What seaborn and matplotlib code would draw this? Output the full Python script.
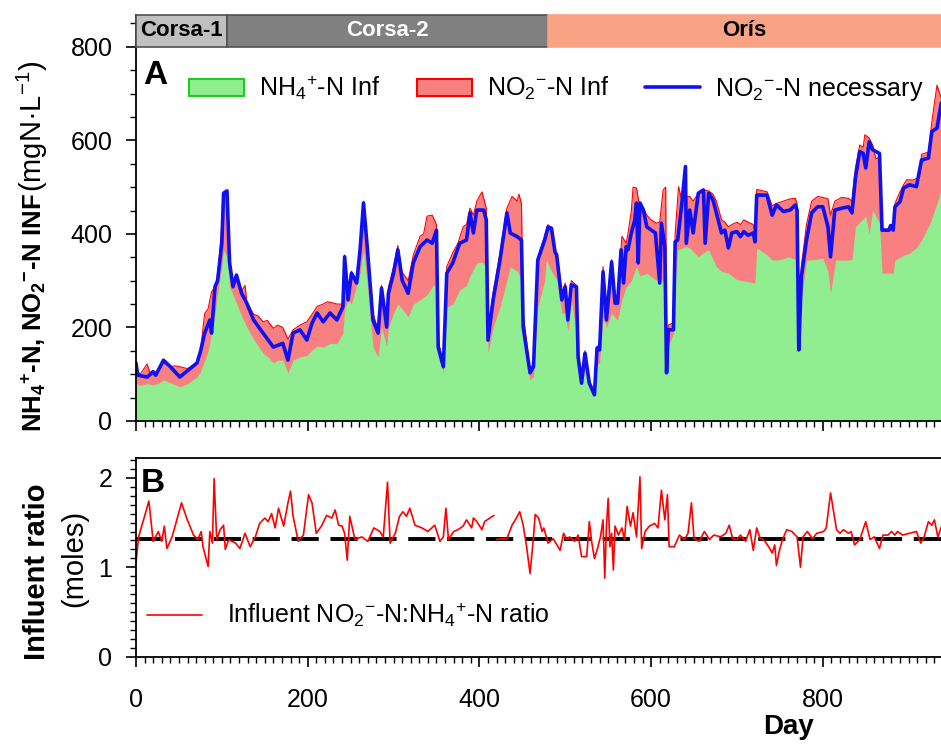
import pandas as pd
import seaborn as sns
import matplotlib.pyplot as plt
from matplotlib.patches import Patch, Rectangle
from matplotlib.lines import Line2D
from matplotlib.ticker import MultipleLocator

###############################################################################
# Data
###############################################################################

# NO2--N necessary (blue line)
need_day = [0, 2, 13, 20, 23, 32, 40, 51, 71, 75, 80, 86, 88, 92, 95, 100, 102, 106, 109, 113,
            117, 123, 129, 137, 148, 160, 171, 177, 183, 191, 199, 205, 211, 218, 226, 234, 241, 243, 247, 251,
            257, 261, 265, 269, 276, 282, 286, 292, 294, 300, 305, 310, 317, 323, 331, 339, 345, 350, 352, 358,
            362, 369, 377, 385, 389, 393, 397, 405, 408, 410, 416, 424, 432, 436, 444, 449, 451, 459, 463, 468,
            476, 480, 484, 488, 490, 496, 500, 503, 507, 513, 515, 519, 523, 528, 534, 537, 540, 544, 548, 554,
            558, 561, 565, 568, 571, 573, 577, 581, 583, 585, 587, 591, 595, 605, 610, 612, 616, 618, 620, 626,
            628, 631, 636, 640, 641, 645, 649, 655, 661, 663, 667, 672, 676, 682, 686, 690, 694, 700, 704, 708,
            713, 719, 721, 723, 735, 741, 746, 754, 762, 768, 770, 772, 775, 781, 787, 794, 800, 806, 809, 814,
            822, 830, 834, 838, 843, 847, 850, 854, 858, 866, 869, 877, 879, 882, 884, 890, 894, 901, 909, 915,
            923, 927, 933, 938]
need_val = [124, 98, 94, 105, 98, 130, 116, 94, 124, 148, 188, 216, 188, 287, 300, 380, 487, 492, 338, 287,
            312, 273, 252, 216, 188, 158, 166, 130, 188, 195, 173, 209, 231, 212, 231, 216, 244, 351, 259, 316,
            295, 366, 466, 380, 216, 188, 284, 201, 273, 316, 366, 301, 273, 338, 373, 387, 380, 408, 158, 116,
            316, 338, 380, 387, 445, 402, 451, 451, 430, 173, 259, 344, 445, 402, 394, 387, 201, 103, 116, 344,
            387, 415, 412, 362, 355, 259, 287, 216, 291, 287, 137, 81, 145, 81, 56, 156, 152, 319, 216, 340,
            252, 252, 366, 295, 373, 366, 402, 430, 466, 338, 466, 451, 415, 402, 295, 423, 373, 103, 195, 195,
            383, 387, 469, 544, 380, 451, 402, 487, 494, 380, 487, 473, 445, 402, 408, 370, 402, 405, 394, 405,
            397, 402, 383, 483, 483, 440, 462, 448, 451, 462, 451, 152, 308, 387, 445, 458, 458, 415, 351, 451,
            455, 458, 445, 520, 576, 572, 541, 597, 580, 572, 408, 408, 418, 408, 458, 469, 498, 505, 501, 558,
            562, 619, 626, 680]

# NO2--N Inf (red area)
no2_day = [0, 5, 13, 16, 20, 25, 32, 40, 45, 51, 60, 71, 75, 80, 84, 88, 92, 95, 100, 102,
           106, 109, 113, 117, 123, 127, 129, 137, 142, 148, 153, 160, 165, 171, 177, 183, 191, 199, 205, 211,
           218, 223, 230, 234, 241, 243, 247, 251, 257, 261, 265, 269, 276, 282, 286, 292, 294, 300, 305, 310,
           317, 323, 331, 335, 339, 345, 350, 352, 358, 362, 369, 375, 381, 385, 389, 393, 397, 403, 408, 410,
           416, 424, 432, 438, 444, 446, 449, 451, 459, 463, 468, 476, 480, 484, 490, 496, 500, 503, 507, 513,
           515, 519, 523, 528, 534, 537, 540, 544, 548, 554, 558, 561, 566, 571, 573, 577, 579, 583, 587, 591,
           595, 600, 606, 610, 614, 617, 618, 620, 626, 628, 632, 636, 640, 645, 649, 655, 661, 667, 672, 676,
           682, 686, 690, 694, 700, 704, 708, 713, 719, 721, 723, 735, 741, 746, 754, 762, 768, 770, 772, 775,
           781, 787, 794, 800, 806, 809, 814, 822, 830, 834, 838, 843, 847, 849, 854, 858, 862, 866, 869, 877,
           882, 884, 890, 894, 898, 905, 913, 915, 923, 927, 933, 938]
no2_val = [110, 100, 122, 104, 108, 102, 124, 116, 118, 116, 112, 124, 148, 230, 240, 276, 287, 305, 420, 490,
           490, 330, 290, 300, 278, 290, 255, 228, 225, 212, 215, 198, 205, 200, 175, 195, 205, 212, 228, 245,
           250, 255, 252, 250, 250, 355, 290, 320, 300, 370, 470, 385, 230, 195, 290, 215, 285, 330, 375, 318,
           300, 355, 395, 400, 438, 440, 420, 170, 125, 330, 360, 380, 415, 420, 455, 440, 470, 490, 455, 190,
           275, 360, 455, 480, 470, 485, 465, 230, 108, 125, 350, 395, 420, 400, 350, 275, 295, 230, 300, 290,
           150, 90, 150, 85, 62, 160, 160, 330, 240, 345, 270, 260, 395, 380, 400, 450, 500, 498, 455, 455,
           440, 430, 423, 425, 494, 500, 110, 205, 210, 400, 501, 470, 480, 480, 470, 487, 494, 492, 485, 470,
           430, 425, 415, 420, 425, 420, 430, 425, 420, 400, 495, 490, 460, 465, 470, 475, 476, 465, 240, 330,
           420, 470, 480, 478, 475, 440, 470, 478, 476, 470, 540, 590, 585, 612, 605, 590, 560, 565, 410, 410,
           412, 465, 490, 505, 516, 515, 522, 570, 575, 640, 718, 690]

# NH4+-N Inf (green area)
nh4_day = [0, 5, 13, 20, 25, 32, 40, 51, 60, 71, 75, 80, 84, 88, 92, 95, 100, 102, 106, 109,
           113, 117, 123, 129, 137, 148, 155, 160, 165, 171, 177, 183, 191, 199, 205, 211, 218, 226, 234, 241,
           243, 247, 251, 257, 261, 265, 269, 276, 282, 286, 292, 294, 300, 305, 310, 317, 323, 331, 339, 345,
           350, 352, 358, 362, 369, 377, 385, 389, 397, 403, 408, 410, 416, 424, 432, 436, 444, 449, 451, 459,
           463, 468, 476, 478, 484, 490, 496, 500, 503, 507, 513, 515, 519, 523, 528, 534, 537, 540, 544, 548,
           554, 561, 566, 571, 577, 583, 587, 595, 605, 612, 616, 618, 620, 626, 628, 631, 641, 645, 655, 661,
           667, 676, 682, 690, 700, 713, 721, 723, 735, 741, 750, 760, 770, 772, 775, 781, 790, 800, 806, 809,
           815, 830, 834, 838, 843, 850, 854, 858, 866, 869, 882, 884, 895, 901, 909, 915, 925, 932, 938]
nh4_val = [81, 76, 80, 77, 80, 88, 82, 73, 80, 94, 105, 130, 150, 188, 230, 273, 330, 366, 350, 287,
           270, 252, 225, 201, 175, 145, 135, 124, 130, 130, 103, 130, 137, 140, 152, 160, 158, 166, 165, 188,
           240, 259, 250, 290, 316, 366, 300, 158, 137, 200, 160, 200, 231, 250, 240, 223, 250, 259, 270, 287,
           295, 140, 103, 244, 250, 280, 290, 310, 338, 340, 330, 145, 200, 244, 300, 330, 320, 302, 170, 88,
           95, 244, 300, 344, 320, 302, 230, 231, 190, 259, 188, 120, 81, 110, 73, 60, 120, 125, 223, 200,
           230, 216, 260, 287, 300, 330, 310, 316, 302, 302, 290, 103, 160, 188, 300, 366, 373, 370, 351, 360,
           366, 330, 320, 316, 302, 298, 295, 370, 355, 344, 345, 351, 344, 158, 260, 344, 345, 348, 320, 273,
           344, 344, 345, 415, 425, 437, 400, 451, 423, 316, 316, 344, 355, 359, 370, 387, 423, 460, 494]

# Influent NO2--N:NH4+-N ratio (panel B)
ratio_day = [0, 3, 10, 15, 20, 26, 30, 33, 36, 42, 47, 53, 59, 67, 72, 76, 78, 84, 86, 89,
             91, 94, 98, 102, 104, 108, 116, 121, 127, 133, 139, 144, 150, 154, 158, 162, 166, 172, 177, 180,
             183, 189, 195, 201, 205, 210, 216, 222, 228, 232, 236, 240, 243, 246, 249, 255, 263, 270, 277, 284,
             288, 293, 296, 302, 307, 311, 315, 319, 325, 333, 340, 348, 354, 358, 361, 364, 370, 375, 381, 385,
             391, 393, 397, 403, 406, 412, 417, 420, 426, 432, 438, 443, 447, 451, 455, 459, 463, 465, 469, 473,
             475, 480, 486, 494, 498, 502, 505, 511, 515, 519, 525, 528, 531, 534, 537, 541, 544, 546, 548, 550,
             552, 554, 556, 558, 562, 566, 569, 572, 576, 579, 583, 587, 589, 593, 598, 604, 608, 612, 616, 619,
             621, 627, 633, 639, 643, 647, 650, 656, 662, 668, 673, 681, 687, 691, 695, 700, 704, 710, 715, 719,
             723, 727, 731, 737, 741, 744, 746, 749, 753, 758, 764, 770, 774, 777, 782, 788, 793, 801, 804, 809,
             816, 820, 824, 830, 833, 837, 843, 850, 855, 860, 866, 870, 876, 880, 884, 887, 893, 901, 909, 914,
             918, 923, 927, 930, 934, 938]
ratio_val = [1.05, 1.34, 1.57, 1.74, 1.29, 1.40, 1.29, 1.46, 1.21, 1.34, 1.51, 1.72, 1.55, 1.36, 1.31, 1.40, 1.23, 1.01, 1.40, 1.27,
             1.99, 1.31, 1.42, 1.47, 1.20, 1.31, 1.27, 1.21, 1.38, 1.23, 1.34, 1.49, 1.55, 1.51, 1.60, 1.44, 1.66, 1.46, 1.72, 1.85,
             1.57, 1.29, 1.36, 1.81, 1.72, 1.38, 1.46, 1.58, 1.55, 1.64, 1.47, 1.46, 1.38, 1.08, 1.57, 1.31, 1.34, 1.29, 1.44, 1.40,
             1.34, 1.95, 1.27, 1.38, 1.57, 1.62, 1.57, 1.66, 1.47, 1.44, 1.40, 1.47, 1.29, 1.34, 1.66, 1.31, 1.40, 1.42, 1.46, 1.53,
             1.44, 1.55, 1.51, 1.42, 1.51, 1.55, 1.58, 1.31, 1.32, 1.32, 1.47, 1.55, 1.62, 1.47, 1.23, 0.93, 1.34, 1.59, 1.55, 1.40,
             1.44, 1.27, 1.32, 1.19, 1.38, 1.31, 1.34, 1.29, 1.36, 1.12, 1.12, 1.51, 1.27, 1.10, 1.19, 1.34, 1.53, 0.88, 1.46, 1.77,
             1.23, 1.38, 0.97, 1.46, 1.36, 1.44, 1.31, 1.68, 1.46, 1.61, 1.34, 2.01, 1.21, 1.40, 1.46, 1.49, 1.44, 1.86, 1.53, 1.81,
             1.23, 1.23, 1.36, 1.31, 1.38, 1.72, 1.32, 1.29, 1.40, 1.31, 1.36, 1.34, 1.38, 1.47, 1.32, 1.31, 1.36, 1.29, 1.42, 1.19,
             1.44, 1.32, 1.31, 1.23, 1.16, 1.25, 1.02, 1.17, 1.31, 1.42, 1.40, 1.34, 1.00, 1.34, 1.40, 1.32, 1.38, 1.40, 1.44, 1.83,
             1.42, 1.38, 1.42, 1.38, 1.40, 1.25, 1.31, 1.51, 1.31, 1.34, 1.21, 1.36, 1.36, 1.40, 1.36, 1.40, 1.36, 1.38, 1.40, 1.27,
             1.34, 1.51, 1.47, 1.53, 1.34, 1.45]
ratio_gap_day = 418        # the red line is broken here

stoich_ratio = 1.32        # dashed reference line

# Reactor phases (start day, end day, label)
phase_names = ["Corsa-1", "Corsa-2", "Orís"]
phase_start = [0, 106, 480]
phase_end = [106, 480, 940]
phase_colors = ["#c0c0c0", "#808080", "#f9a385"]
phase_text_colors = ["black", "white", "black"]

###############################################################################
# Style
###############################################################################
sns.set_style("ticks")
plt.rcParams['font.family'] = ['Liberation Sans', 'DejaVu Sans']
plt.rcParams['mathtext.fontset'] = 'custom'
plt.rcParams['mathtext.rm'] = 'Liberation Sans'
plt.rcParams['mathtext.bf'] = 'Liberation Sans:bold'
plt.rcParams['mathtext.it'] = 'Liberation Sans:italic'
plt.rcParams['axes.linewidth'] = 1.3
for key in ['text.color', 'axes.labelcolor', 'xtick.color', 'ytick.color', 'axes.edgecolor']:
    plt.rcParams[key] = 'black'

GREEN = "#90ee90"
SALMON = "#f88080"
BLUE = "#1010f0"

fig = plt.figure(figsize=(9.41, 7.46), dpi=100)
ax_a = fig.add_axes([136 / 941, 325 / 746, 807 / 941, 406 / 746])
ax_b = fig.add_axes([136 / 941, 89 / 746, 807 / 941, 199 / 746])

###############################################################################
# Panel A
###############################################################################
ax_a.fill_between(no2_day, no2_val, color=SALMON, lw=0)
ax_a.plot(no2_day, no2_val, color="red", lw=0.8)
ax_a.fill_between(nh4_day, nh4_val, color=GREEN, lw=0)
sns.lineplot(x=need_day, y=need_val, color=BLUE, lw=2.6, estimator=None, ax=ax_a)

ax_a.set_xlim(0, 940)
ax_a.set_ylim(0, 868)

# phase bars above the data
for name, s, e, c, tc in zip(phase_names, phase_start, phase_end, phase_colors, phase_text_colors):
    ax_a.add_patch(Rectangle((s, 800), e - s, 68, facecolor=c,
                             edgecolor="#505050" if c != phase_colors[2] else c,
                             lw=1.2, clip_on=False, zorder=4))
    ax_a.text((s + min(e, 938)) / 2, 834, name, ha="center", va="center", color=tc,
              fontsize=16, fontweight="bold", zorder=5)

for d in phase_start[1:]:
    ax_a.plot([d, d], [0, 800], color="black", lw=3, linestyle=(0, (0, 2.4)),
              dash_capstyle="round", zorder=6, clip_on=False)

ax_a.yaxis.set_major_locator(MultipleLocator(200))
ax_a.yaxis.set_minor_locator(MultipleLocator(50))
ax_a.xaxis.set_major_locator(MultipleLocator(200))
ax_a.xaxis.set_minor_locator(MultipleLocator(10))
ax_a.set_yticks([0, 200, 400, 600, 800])
ax_a.tick_params(which="major", direction="out", length=7, width=1.2, labelsize=18, pad=10)
ax_a.tick_params(which="minor", direction="out", length=4, width=1.0)
ax_a.tick_params(axis="x", labelbottom=False)
ax_a.spines["top"].set_visible(False)
ax_a.spines["right"].set_visible(False)
ax_a.set_xlabel("")
ax_a.set_ylabel("")

ax_a.text(0.009, 0.852, "A", transform=ax_a.transAxes, fontsize=24, fontweight="bold",
          va="center", ha="left")

handles_a = [
    Patch(facecolor=GREEN, edgecolor="#22cc22", lw=1.5),
    Patch(facecolor=SALMON, edgecolor="red", lw=1.5),
    Line2D([], [], color=BLUE, lw=2.6),
]
labels_a = ["NH$_4{}^{+}$-N Inf", "NO$_2{}^{-}$-N Inf", "NO$_2{}^{-}$-N necessary"]
ax_a.legend(handles_a, labels_a, ncol=3, loc="upper left", bbox_to_anchor=(0.066, 0.855),
            frameon=False, fontsize=18, handlelength=2.2, handleheight=0.7,
            columnspacing=1.45, handletextpad=0.6, borderaxespad=0, borderpad=0)

###############################################################################
# Panel B
###############################################################################
ratio_df = pd.DataFrame({"day": ratio_day, "ratio": ratio_val})
ratio_df["seg"] = (ratio_df["day"] > ratio_gap_day).astype(int)
sns.lineplot(data=ratio_df, x="day", y="ratio", units="seg", estimator=None,
             color="red", lw=1.2, ax=ax_b)
ax_b.axhline(stoich_ratio, color="black", lw=2.8, dashes=(7, 3), zorder=1)

ax_b.set_xlim(0, 940)
ax_b.set_ylim(0, 2.22)
ax_b.yaxis.set_major_locator(MultipleLocator(1))
ax_b.yaxis.set_minor_locator(MultipleLocator(0.1))
ax_b.xaxis.set_major_locator(MultipleLocator(200))
ax_b.xaxis.set_minor_locator(MultipleLocator(10))
ax_b.tick_params(which="major", direction="out", length=7, width=1.2, labelsize=18, pad=10)
ax_b.tick_params(axis="x", which="major", pad=15)
ax_b.tick_params(which="minor", direction="out", length=4, width=1.0)
ax_b.spines["right"].set_visible(False)
ax_b.set_ylabel("")
ax_b.set_xlabel("Day", fontsize=20, fontweight="bold")
ax_b.xaxis.set_label_coords((789 - 136) / 807, -0.285)

ax_b.text(0.006, 0.87, "B", transform=ax_b.transAxes, fontsize=24, fontweight="bold",
          va="center", ha="left")

ax_b.legend([Line2D([], [], color="red", lw=1.2)],
            ["Influent NO$_2{}^{-}$-N:NH$_4{}^{+}$-N ratio"],
            loc="center left", bbox_to_anchor=(0.014, 0.21), frameon=False, fontsize=18,
            handlelength=2.2, handletextpad=1.0, borderaxespad=0, borderpad=0)

###############################################################################
# Y labels (mixed bold / regular)
###############################################################################
fig.text(42 / 941, (746 - 432) / 746,
         "NH$_\\mathbf{4}{}^{\\mathbf{+}}$-N, NO$_\\mathbf{2}{}^{\\mathbf{-}}$-N INF",
         rotation=90, rotation_mode="anchor", ha="left", va="baseline",
         fontsize=18.5, fontweight="bold")
fig.text(42 / 941, (746 - 192) / 746, "(mgN·L$^{-1}$)",
         rotation=90, rotation_mode="anchor", ha="left", va="baseline", fontsize=21)

fig.text(45 / 941, (746 - 572) / 746, "Influent ratio", rotation=90, rotation_mode="anchor",
         ha="center", va="baseline", fontsize=21, fontweight="bold")
fig.text(82 / 941, (746 - 558) / 746, "(moles)", rotation=90, rotation_mode="anchor",
         ha="center", va="baseline", fontsize=21)

fig.savefig("out.png", dpi=100)
